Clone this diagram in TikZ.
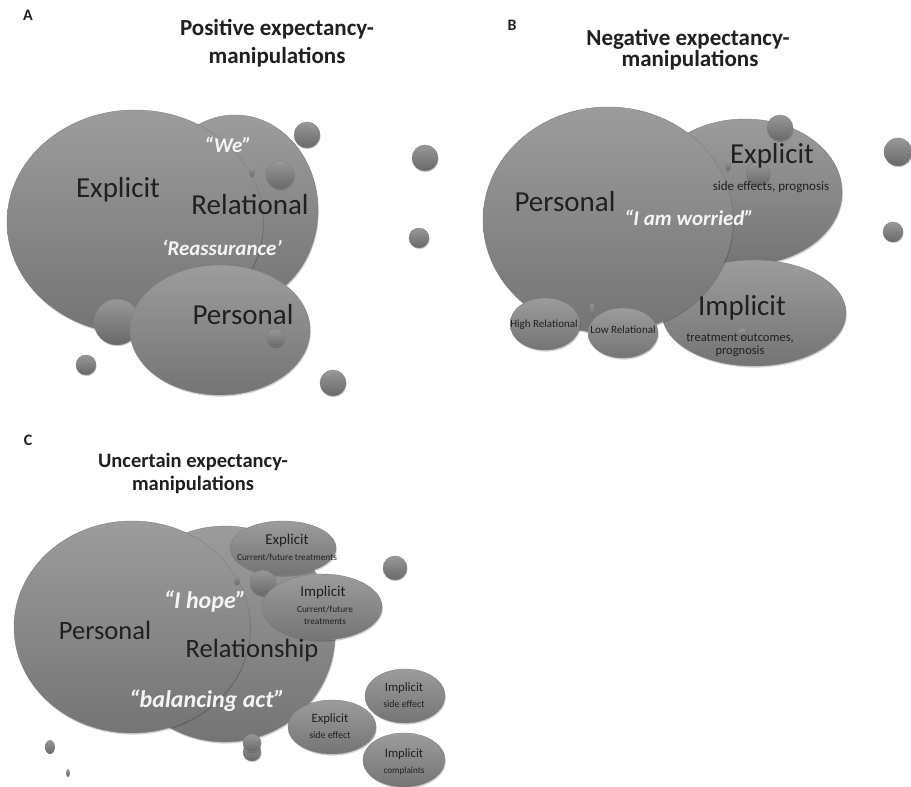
\documentclass[tikz,border=0pt]{standalone}
\usepackage{fontspec}
\setmainfont{Carlito}
\usetikzlibrary{shapes.geometric,shadows}
\definecolor{bTop}{RGB}{156,156,156}
\definecolor{bBot}{RGB}{116,116,116}
\definecolor{bEdge}{RGB}{128,128,128}
\definecolor{sTop}{RGB}{152,152,152}
\definecolor{sBot}{RGB}{104,104,104}
\definecolor{txt}{RGB}{32,32,32}
\definecolor{wtxt}{RGB}{244,244,244}
\tikzset{
  blob/.style={ellipse, inner sep=0pt, top color=bTop, bottom color=bBot, draw=bEdge, line width=0.4pt,
    drop shadow={shadow xshift=0.8pt, shadow yshift=-1.6pt, opacity=.18, fill=black}},
  sph/.style={circle, inner sep=0pt, minimum size=#1, top color=sTop, bottom color=sBot, draw=bEdge, line width=0.4pt,
    drop shadow={shadow xshift=0.6pt, shadow yshift=-1.2pt, opacity=.18, fill=black}},
  drp/.style={ellipse, inner sep=0pt, top color=sTop, bottom color=sBot, draw=none},
  lab/.style={inner sep=0pt, text=txt, text height=.72em, text depth=.22em},
  big/.style={lab, font=\fontsize{29}{34}\selectfont},
  bigc/.style={lab, font=\fontsize{26.5}{31}\selectfont},
  quo/.style={inner sep=0pt, text=wtxt, text height=.72em, text depth=.22em, font=\bfseries\itshape\fontsize{#1}{#1}\selectfont},
  sm/.style={lab, font=\fontsize{#1}{#1}\selectfont},
  ttl/.style={inner sep=0pt, text=txt, text height=.72em, text depth=.22em, font=\bfseries\fontsize{#1}{#1}\selectfont},
  pan/.style={inner sep=0pt, text=txt, font=\bfseries\fontsize{16}{16}\selectfont}
}
\begin{document}
\begin{tikzpicture}[x=1pt,y=-1pt]
\useasboundingbox (0,0) rectangle (911,787);
\fill[white] (0,0) rectangle (911,787);

% ================= Panel A =================
\node[pan] (aL) at (28,15) {A};
\node[ttl=23] (aT1) at (277,33) {Positive expectancy-};
\node[ttl=23] (aT2) at (277,61) {manipulations};

\node[blob, minimum width=166pt, minimum height=190pt] (aRel) at (235,210) {};
\node[blob, minimum width=256pt, minimum height=224pt] (aExp) at (135,222) {};
\node[sph=28pt] (aS1) at (280,175) {};
\node[drp, minimum width=6pt, minimum height=11pt] (aD1) at (252,172) {};
\node[sph=46pt] (aS2) at (117,322) {};
\node[blob, minimum width=180pt, minimum height=130pt] (aPer) at (220,330) {};
\node[sph=18pt] (aS3) at (275,338) {};
\node[sph=26pt] (aS4) at (307,135) {};
\node[sph=26pt] (aS5) at (425,158) {};
\node[sph=20pt] (aS6) at (419,238) {};
\node[sph=20pt] (aS7) at (86,365) {};
\node[sph=26pt] (aS8) at (333,383) {};

\node[big] (aTxE) at (118,195) {Explicit};
\node[big] (aTxR) at (250,212) {Relational};
\node[big] (aTxP) at (243,322) {Personal};
\node[quo=21] (aQ1) at (228,150) {“We”};
\node[quo=21] (aQ2) at (222,253) {‘Reassurance’};

% ================= Panel B =================
\node[pan] (bL) at (512,25) {B};
\node[ttl=23] (bT1) at (688,43) {Negative expectancy-};
\node[ttl=23] (bT2) at (690,64) {manipulations};

\node[blob, minimum width=194pt, minimum height=146pt] (bExp) at (745,192) {};
\node[sph=24pt] (bS0) at (758,174) {};
\node[blob, minimum width=184pt, minimum height=106pt] (bImp) at (754,313) {};
\node[sph=10pt] (bS6) at (742,333) {};
\node[blob, minimum width=250pt, minimum height=226pt] (bPer) at (608,220) {};
\node[drp, minimum width=6pt, minimum height=11pt] (bD1) at (728,166) {};
\node[sph=26pt] (bS1) at (780,128) {};
\node[blob, minimum width=70pt, minimum height=52pt] (bHigh) at (545,324) {};
\node[blob, minimum width=70pt, minimum height=50pt] (bLow) at (623,333) {};
\node[drp, minimum width=4pt, minimum height=14pt] (bD2) at (592,310) {};
\node[sph=28pt] (bS2) at (898,152) {};
\node[sph=20pt] (bS3) at (893,232) {};

\node[big] (bTxP) at (565,209) {Personal};
\node[big] (bTxE) at (772,161) {Explicit};
\node[sm=13] (bTxE2) at (771,188) {side effects, prognosis};
\node[quo=21] (bQ1) at (689,223) {“I am worried”};
\node[big] (bTxI) at (742,313) {Implicit};
\node[sm=12.5] (bTxI2) at (740,339) {treatment outcomes,};
\node[sm=12.5] (bTxI3) at (740,352) {prognosis};
\node[sm=11] (bTxH) at (544,325) {High Relational};
\node[sm=11] (bTxL) at (623,331) {Low Relational};

% ================= Panel C =================
\node[pan] (cL) at (28,440) {C};
\node[ttl=20.5] (cT1) at (193,465) {Uncertain expectancy-};
\node[ttl=20.5] (cT2) at (193,488) {manipulations};

\node[blob, minimum width=220pt, minimum height=216pt] (cRel) at (225,634) {};
\node[blob, minimum width=236pt, minimum height=212pt] (cPer) at (132,627) {};
\node[blob, minimum width=106pt, minimum height=54pt] (cExpT) at (283,548) {};
\node[drp, minimum width=6pt, minimum height=11pt] (cD1) at (237,580) {};
\node[sph=26pt] (cS1) at (263,583) {};
\node[blob, minimum width=120pt, minimum height=66pt] (cImpT) at (322,607) {};
\node[sph=24pt] (cS2) at (395,568) {};
\node[blob, minimum width=80pt, minimum height=54pt] (cImpS) at (405,696) {};
\node[blob, minimum width=82pt, minimum height=54pt] (cImpC) at (404,760) {};
\node[blob, minimum width=88pt, minimum height=54pt] (cExpS) at (332,727) {};
\node[sph=18pt] (cS3) at (252,752) {};
\node[sph=18pt] (cS4) at (252,743) {};
\node[drp, minimum width=10pt, minimum height=14pt] (cD2) at (50,747) {};
\node[drp, minimum width=4pt, minimum height=8pt] (cD3) at (68,773) {};

\node[bigc] (cTxP) at (105,637) {Personal};
\node[bigc] (cTxR) at (252,655) {Relationship};
\node[quo=24] (cQ1) at (205,606) {“I hope”};
\node[quo=24] (cQ2) at (207,705) {“balancing act”};
\node[sm=15] (cTxE1) at (287,542) {Explicit};
\node[sm=9.3] (cTxE1b) at (287,558) {Current/future treatments};
\node[sm=15] (cTxI1) at (323,594) {Implicit};
\node[sm=9.3] (cTxI1b) at (325,610) {Current/future};
\node[sm=9.3] (cTxI1c) at (325,622) {treatments};
\node[sm=12.7] (cTxI2) at (404,689) {Implicit};
\node[sm=9.9] (cTxI2b) at (404,705) {side effect};
\node[sm=12.7] (cTxE2) at (330,720) {Explicit};
\node[sm=9.9] (cTxE2b) at (330,736) {side effect};
\node[sm=12.7] (cTxI3) at (404,755) {Implicit};
\node[sm=9.2] (cTxI3b) at (404,771) {complaints};
\end{tikzpicture}
\end{document}
